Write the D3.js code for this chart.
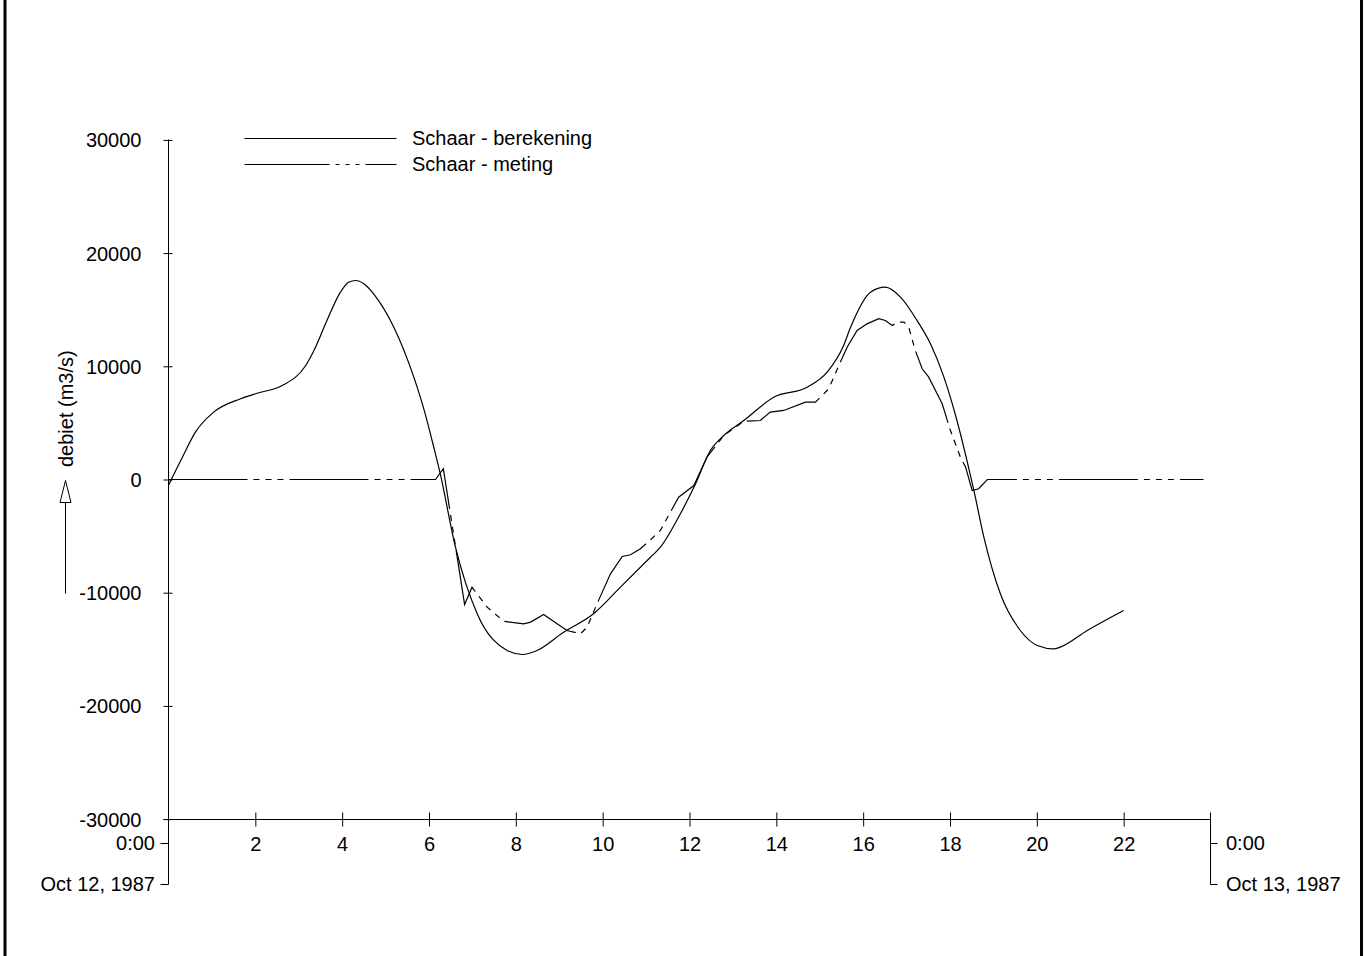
<!DOCTYPE html>
<html>
<head>
<meta charset="utf-8">
<script src="https://cdn.jsdelivr.net/npm/d3@7"></script>
<style>
  html, body { margin: 0; padding: 0; background: #fff; }
  svg { display: block; }
  text { font-family: "Liberation Sans", Arial, Helvetica, sans-serif; font-size: 20px; fill: #000; }
</style>
</head>
<body>
<svg id="chart" width="1366" height="956"></svg>
<script>
// ---- data ----
const seriesNames = ["Schaar - berekening", "Schaar - meting"];
const calcHours = [0, 0.32, 0.62, 1.04, 1.66, 2.04, 2.62, 3.16, 3.35, 3.65, 3.96, 4.15, 4.31, 4.50, 4.81, 5.19, 5.65, 5.88, 6.11, 6.26, 6.61, 7.11, 7.80, 8.15, 8.49, 9.10, 9.79, 10.41, 11.10, 11.33, 11.79, 12.14, 12.48, 12.79, 13.25, 13.94, 14.71, 15.17, 15.55, 15.71, 16.17, 16.51, 16.86, 17.24, 17.55, 17.86, 18.16, 18.39, 18.55, 18.78, 19.16, 19.62, 20.01, 20.39, 20.54, 21.16, 22.0];
const calcValues = [-500, 1970, 4180, 5950, 7130, 7620, 8300, 10070, 11400, 14050, 16550, 17430, 17580, 17290, 15960, 13450, 9040, 6240, 2850, 500, -5980, -11860, -15100, -15460, -15100, -13490, -11860, -9510, -6870, -5980, -3030, -380, 2560, 3890, 5210, 7270, 8150, 9480, 11840, 13450, 16550, 16990, 16110, 14050, 11990, 9040, 5210, 1680, -970, -5100, -10100, -13340, -14660, -14960, -14810, -13340, -11570];
const measHours = [0, 6.15, 6.33, 6.82, 6.99, 7.34, 7.72, 8.18, 8.34, 8.64, 8.95, 9.18, 9.49, 9.64, 9.87, 10.18, 10.45, 10.64, 10.87, 11.10, 11.33, 11.75, 12.10, 12.40, 12.79, 13.25, 13.63, 13.86, 14.17, 14.67, 14.90, 15.17, 15.24, 15.44, 15.63, 15.86, 16.09, 16.36, 16.51, 16.67, 16.78, 16.94, 17.05, 17.20, 17.36, 17.51, 17.82, 18.01, 18.24, 18.36, 18.51, 18.66, 18.86, 23.84];
const measValues = [0, 0, 950, -11040, -9510, -11280, -12520, -12750, -12600, -11930, -12750, -13340, -13630, -13050, -10980, -8330, -6800, -6650, -6120, -5330, -4500, -1560, -530, 1970, 3890, 5150, 5210, 5950, 6100, 6830, 6830, 7860, 8300, 10070, 11690, 13160, 13750, 14200, 14050, 13600, 13900, 13900, 13450, 11400, 9780, 9040, 6690, 4330, 1970, 1090, -970, -820, 0, 0];
const yTicks = [-30000, -20000, -10000, 0, 10000, 20000, 30000];
const xTicks = [2, 4, 6, 8, 10, 12, 14, 16, 18, 20, 22];
const startLabels = ["0:00", "Oct 12, 1987"];
const endLabels = ["0:00", "Oct 13, 1987"];
const yAxisTitle = "debiet (m3/s)";

// ---- layout ----
const svg = d3.select("#chart");
const x = d3.scaleLinear().domain([0, 24]).range([168, 1210]);
const y = d3.scaleLinear().domain([-30000, 30000]).range([818.6, 139.4]);
const dashPattern = "79,6,6,6,6,6,6,6";
const plainFmt = d => String(d);

// frame
const frame = svg.append("g").attr("stroke", "#000").attr("stroke-width", 3);
frame.append("line").attr("x1", 5).attr("x2", 5).attr("y1", 0).attr("y2", 956);
frame.append("line").attr("x1", 1361.5).attr("x2", 1361.5).attr("y1", 0).attr("y2", 956);

const g = svg.append("g").attr("transform", "translate(0.5,0.5)");

// y axis
const yAxisG = g.append("g").attr("transform", `translate(${x(0)},0)`)
  .call(d3.axisLeft(y).tickValues(yTicks).tickSize(5).tickFormat(plainFmt));
yAxisG.select(".domain").remove();
yAxisG.selectAll(".tick line").attr("x1", -5).attr("x2", 4).attr("stroke", "#000");
yAxisG.selectAll(".tick text").attr("x", -27).attr("dy", "0.35em")
  .style("font-size", "20px").style("font-family", "Liberation Sans, Arial, sans-serif").attr("fill", "#000");
g.append("line").attr("x1", x(0)).attr("x2", x(0)).attr("y1", Math.round(y(30000))).attr("y2", 884).attr("stroke", "#000");

// x axis
const xAxisG = g.append("g").attr("transform", `translate(0,${Math.round(y(-30000))})`)
  .call(d3.axisBottom(x).tickValues(xTicks).tickSize(7).tickFormat(plainFmt));
xAxisG.select(".domain").remove();
xAxisG.selectAll(".tick line").attr("y1", -7).attr("y2", 7).attr("stroke", "#000");
xAxisG.selectAll(".tick text").attr("y", 24).attr("dy", "0.35em")
  .style("font-size", "20px").style("font-family", "Liberation Sans, Arial, sans-serif").attr("fill", "#000");
const axY = Math.round(y(-30000));
g.append("line").attr("x1", x(0) - 5).attr("x2", x(24)).attr("y1", axY).attr("y2", axY).attr("stroke", "#000");
// end brackets
g.append("line").attr("x1", x(24)).attr("x2", x(24)).attr("y1", axY - 7).attr("y2", 884).attr("stroke", "#000");
[843, 884].forEach((yy, i) => {
  g.append("line").attr("x1", x(0) - 8).attr("x2", x(0)).attr("y1", yy).attr("y2", yy).attr("stroke", "#000");
  g.append("line").attr("x1", x(24)).attr("x2", x(24) + 7).attr("y1", yy).attr("y2", yy).attr("stroke", "#000");
  svg.append("text").attr("x", x(0) - 13).attr("y", yy).attr("dy", "0.35em").attr("text-anchor", "end").text(startLabels[i]);
  svg.append("text").attr("x", x(24) + 16).attr("y", yy).attr("dy", "0.35em").attr("text-anchor", "start").text(endLabels[i]);
});

// y axis title with arrow
svg.append("text").attr("transform", "translate(73,467) rotate(-90)").attr("text-anchor", "start").text(yAxisTitle);
g.append("line").attr("x1", 65).attr("x2", 65).attr("y1", 593).attr("y2", 502).attr("stroke", "#000");
g.append("path").attr("d", "M59.5,502 L70.5,502 L65,480 Z").attr("fill", "#fff").attr("stroke", "#000");

// lines
const calcData = calcHours.map((h, i) => [h, calcValues[i]]);
const measData = measHours.map((h, i) => [h, measValues[i]]);
const calcLine = d3.line().x(d => x(d[0])).y(d => y(d[1])).curve(d3.curveMonotoneX);
const measLine = d3.line().x(d => x(d[0])).y(d => y(d[1])).curve(d3.curveLinear);
g.append("path").datum(measData).attr("d", measLine).attr("fill", "none").attr("stroke", "#000")
  .attr("stroke-width", 1.2).attr("stroke-dasharray", dashPattern);
g.append("path").datum(calcData).attr("d", calcLine).attr("fill", "none").attr("stroke", "#000").attr("stroke-width", 1.2);

// legend
const legend = g.append("g");
legend.append("line").attr("x1", 244).attr("x2", 396).attr("y1", 138).attr("y2", 138).attr("stroke", "#000").attr("stroke-width", 1.2);
legend.append("line").attr("x1", 244).attr("x2", 396).attr("y1", 164).attr("y2", 164).attr("stroke", "#000").attr("stroke-width", 1.2)
  .attr("stroke-dasharray", "85,6,4,6,4,6,4,6,40");
svg.append("text").attr("x", 412).attr("y", 138).attr("dy", "0.35em").text(seriesNames[0]);
svg.append("text").attr("x", 412).attr("y", 164).attr("dy", "0.35em").text(seriesNames[1]);
</script>
</body>
</html>
